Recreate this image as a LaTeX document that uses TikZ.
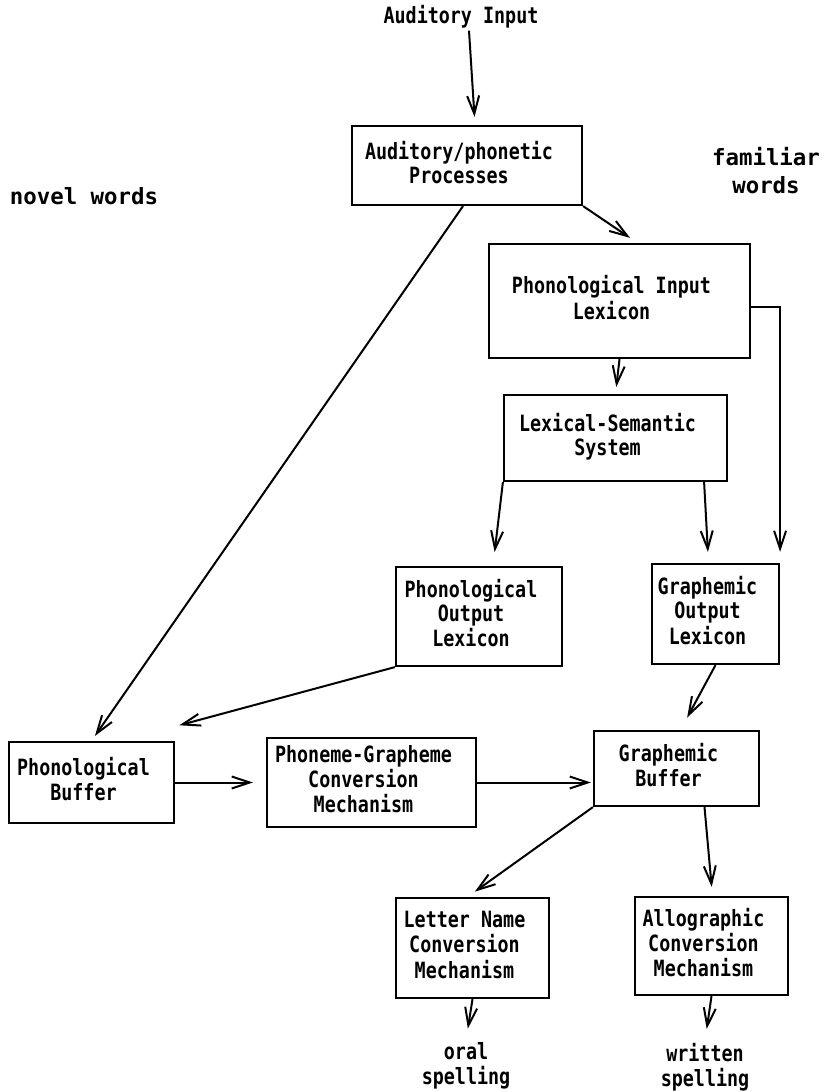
\documentclass[tikz,border=0pt]{standalone}
\usepackage{fontspec}
\usetikzlibrary{arrows.meta}
\newfontfamily\boxfont[FakeStretch=0.82]{DejaVu Sans Mono}
\newfontfamily\lblfont{DejaVu Sans Mono}
\newcommand\shl[1]{\begin{tabular}{@{}c@{\hspace{16pt}}}#1\end{tabular}}
\tikzset{
  blk/.style={draw, line width=2.2pt, inner sep=0pt, font=\boxfont\bfseries\fontsize{22.4}{24}\selectfont},
  txt/.style={inner sep=2pt, align=center, font=\boxfont\bfseries\fontsize{22.4}{25}\selectfont},
  lbl/.style={inner sep=2pt, align=center, font=\lblfont\bfseries\fontsize{22.4}{28}\selectfont},
  arr/.style={line width=2pt, -{Straight Barb[length=18pt,width=12pt,line width=2pt]}},
  ln/.style={line width=2pt}
}
\begin{document}
\begin{tikzpicture}[x=1pt,y=-1pt]
\useasboundingbox (0,0) rectangle (829,1092);
% labels
\node[txt] (in) at (461,17) {Auditory Input};
\node[lbl] (novel) at (84,196) {novel words};
\node[lbl] (fam) at (766,171) {familiar\\words};
% boxes
\node[blk, minimum width=230pt, minimum height=79pt] (ap) at (467,165.5) {\shl{Auditory/phonetic\\Processes}};
\node[blk, minimum width=261pt, minimum height=114pt] (pil) at (619.5,301) {\shl{Phonological Input\\Lexicon}};
\node[blk, minimum width=223pt, minimum height=86pt] (lss) at (615.5,438) {\shl{Lexical-Semantic\\System}};
\node[blk, minimum width=166pt, minimum height=99pt] (pol) at (479,616.5) {\shl{Phonological\\Output\\Lexicon}};
\node[blk, minimum width=127pt, minimum height=100pt] (gol) at (715.5,614) {\shl{Graphemic\\Output\\Lexicon}};
\node[blk, minimum width=165pt, minimum height=81pt] (pb) at (91.5,782.5) {\shl{Phonological\\Buffer}};
\node[blk, minimum width=209pt, minimum height=89pt] (pgc) at (371.5,782.5) {\shl{Phoneme-Grapheme\\Conversion\\Mechanism}};
\node[blk, minimum width=165pt, minimum height=75pt] (gb) at (676.5,768.5) {\shl{Graphemic\\Buffer}};
\node[blk, minimum width=153pt, minimum height=100pt] (lncm) at (472.5,948) {\shl{Letter Name\\Conversion\\Mechanism}};
\node[blk, minimum width=153pt, minimum height=98pt] (acm) at (711.5,946) {\shl{Allographic\\Conversion\\Mechanism}};
\node[txt] (oral) at (466,1066) {oral\\spelling};
\node[txt] (written) at (705,1067) {written\\spelling};
% connectors
\draw[arr, shorten >=8pt] ([xshift=8pt]in.south) -- ([xshift=8pt]ap.north);
\draw[arr, shorten >=9pt] (ap.south east) -- ([xshift=18pt]pil.north);
\draw[arr, shorten >=6pt] ([xshift=-4pt]ap.south) -- (pb.north);
\draw[arr, shorten >=7pt] (pil.south) -- (lss.north);
\draw[arr, shorten >=11pt] ([yshift=-6pt]pil.east) -| (gol.north east);
\draw[arr, shorten >=14pt] (lss.south west) -- ([xshift=14pt]pol.north);
\draw[arr, shorten >=11pt] ([xshift=-24pt]lss.south east) -- ([xshift=-7pt]gol.north);
\draw[arr, shorten >=60pt] (pol.south west) -- ([xshift=30pt]pb.north);
\draw[arr, shorten >=14pt] (gol.south) -- ([xshift=4pt]gb.north);
\draw[arr, shorten >=13pt] (pb.east) -- (pgc.west);
\draw[arr, shorten >=2pt] (pgc.east) -- (pgc.east -| gb.west);
\draw[arr, shorten >=9pt] (gb.south west) -- ([xshift=-5pt]lncm.north);
\draw[arr, shorten >=9pt] ([xshift=28pt]gb.south) -- ([xshift=1pt]acm.north);
\draw[arr, shorten >=12pt] (lncm.south) -- (oral.north);
\draw[arr, shorten >=12pt] (acm.south) -- (written.north);
\end{tikzpicture}
\end{document}
